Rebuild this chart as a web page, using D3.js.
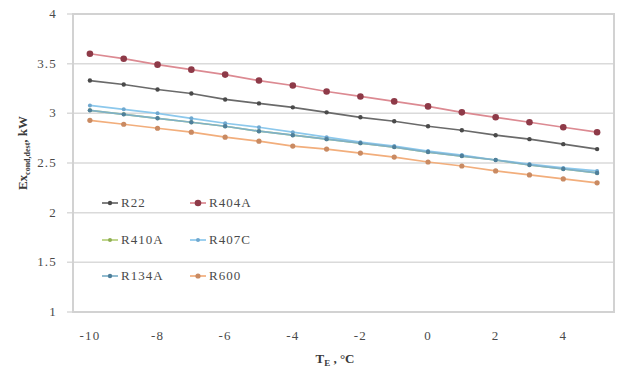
<!DOCTYPE html>
<html>
<head>
<meta charset="utf-8">
<script src="https://cdn.jsdelivr.net/npm/d3@7"></script>
<style>
  body { margin: 0; background: #fff; }
  svg text { font-family: "Liberation Serif", "Times New Roman", serif; }
</style>
</head>
<body>
<svg width="620" height="368"></svg>
<script>
let temps = [-10, -9, -8, -7, -6, -5, -4, -3, -2, -1, 0, 1, 2, 3, 4, 5]
let xTickLabels = [-10, -8, -6, -4, -2, 0, 2, 4]
let yTicks = [1, 1.5, 2, 2.5, 3, 3.5, 4]

let r22 = [3.33, 3.29, 3.24, 3.20, 3.14, 3.10, 3.06, 3.01, 2.96, 2.92, 2.87, 2.83, 2.78, 2.74, 2.69, 2.64]
let r404a = [3.60, 3.55, 3.49, 3.44, 3.39, 3.33, 3.28, 3.22, 3.17, 3.12, 3.07, 3.01, 2.96, 2.91, 2.86, 2.81]
let r410a = [3.03, 2.99, 2.95, 2.91, 2.87, 2.82, 2.78, 2.74, 2.70, 2.66, 2.61, 2.57, 2.53, 2.48, 2.44, 2.40]
let r407c = [3.08, 3.04, 3.00, 2.95, 2.90, 2.86, 2.81, 2.76, 2.71, 2.67, 2.62, 2.58, 2.53, 2.49, 2.45, 2.42]
let r134a = [3.03, 2.99, 2.95, 2.91, 2.87, 2.82, 2.78, 2.74, 2.70, 2.66, 2.61, 2.57, 2.53, 2.48, 2.44, 2.40]
let r600 = [2.93, 2.89, 2.85, 2.81, 2.76, 2.72, 2.67, 2.64, 2.60, 2.56, 2.51, 2.47, 2.42, 2.38, 2.34, 2.30]

let seriesNames = ['R22', 'R404A', 'R410A', 'R407C', 'R134A', 'R600']
let seriesValues = [r22, r404a, r410a, r407c, r134a, r600]
let lineColors = ['#6a6a6a', '#dc8a92', '#b5cf7a', '#8cc8ec', '#7fb0c8', '#f2ae7c']
let markerColors = ['#4a4a4a', '#8e3a48', '#8fae52', '#6fa8cf', '#4f7f9a', '#c98a62']
let markerSizes = [2.2, 3.3, 2, 2, 2.2, 2.6]

let margin = { top: 14, bottom: 56, left: 73, right: 6 }
let width = 620
let height = 368

let svg = d3.select('svg')

let xScale = d3.scalePoint()
  .domain(temps)
  .range([margin.left, width - margin.right])
  .padding(0.5)

let yScale = d3.scaleLinear()
  .domain([1, 4])
  .range([height - margin.bottom, margin.top])

// gridlines + y tick marks
svg.append('g')
  .selectAll('line')
  .data(yTicks)
  .join('line')
  .attr('x1', margin.left - 6)
  .attr('x2', width - margin.right)
  .attr('y1', d => yScale(d))
  .attr('y2', d => yScale(d))
  .attr('stroke', '#dadada')
  .attr('stroke-width', 1.5)

// plot border
svg.append('rect')
  .attr('x', margin.left)
  .attr('y', margin.top)
  .attr('width', width - margin.right - margin.left)
  .attr('height', height - margin.bottom - margin.top)
  .attr('fill', 'none')
  .attr('stroke', '#d2d2d2')
  .attr('stroke-width', 2)

// y tick labels
svg.append('g')
  .selectAll('text')
  .data(yTicks)
  .join('text')
  .attr('x', 57)
  .attr('y', d => yScale(d) + 4)
  .attr('text-anchor', 'end')
  .attr('font-size', 13)
  .attr('letter-spacing', 1.2)
  .attr('fill', '#4a4a4a')
  .text(d => d)

// x tick labels
svg.append('g')
  .selectAll('text')
  .data(xTickLabels)
  .join('text')
  .attr('x', d => xScale(d))
  .attr('y', 340)
  .attr('text-anchor', 'middle')
  .attr('font-size', 13)
  .attr('letter-spacing', 1.2)
  .attr('fill', '#4a4a4a')
  .text(d => d)

// axis titles
let xTitle = svg.append('text')
  .attr('x', 335)
  .attr('y', 363)
  .attr('text-anchor', 'middle')
  .attr('font-size', 13)
  .attr('font-weight', 'bold')
  .attr('fill', '#3a3a3a')
xTitle.append('tspan').text('T')
xTitle.append('tspan').attr('font-size', 9).attr('dy', 3).text('E')
xTitle.append('tspan').attr('dy', -3).text(' , °C')

let yTitle = svg.append('text')
  .attr('transform', 'translate(27,153) rotate(-90)')
  .attr('text-anchor', 'middle')
  .attr('font-size', 13)
  .attr('font-weight', 'bold')
  .attr('fill', '#3a3a3a')
yTitle.append('tspan').text('Ex')
yTitle.append('tspan').attr('font-size', 8).attr('dy', 3).text('cond,dest')
yTitle.append('tspan').attr('dy', -3).text(', kW')

// series lines and markers
let line = d3.line()
  .x((d, i) => xScale(temps[i]))
  .y(d => yScale(d))

seriesValues.forEach((vals, k) => {
  svg.append('path')
    .attr('d', line(vals))
    .attr('fill', 'none')
    .attr('stroke', lineColors[k])
    .attr('stroke-width', 1.7)
  svg.append('g')
    .selectAll('circle')
    .data(vals)
    .join('circle')
    .attr('cx', (d, i) => xScale(temps[i]))
    .attr('cy', d => yScale(d))
    .attr('r', markerSizes[k])
    .attr('fill', markerColors[k])
})

// legend
let legendX = [102, 190]
let legendY = [203, 240, 276]
let legend = svg.append('g')
seriesNames.forEach((name, k) => {
  let lx = legendX[k % 2]
  let ly = legendY[Math.floor(k / 2)]
  legend.append('line')
    .attr('x1', lx).attr('x2', lx + 16)
    .attr('y1', ly).attr('y2', ly)
    .attr('stroke', lineColors[k])
    .attr('stroke-width', 1.7)
  legend.append('circle')
    .attr('cx', lx + 8).attr('cy', ly)
    .attr('r', markerSizes[k])
    .attr('fill', markerColors[k])
  legend.append('text')
    .attr('x', lx + 19)
    .attr('y', ly + 4)
    .attr('font-size', 13)
    .attr('letter-spacing', 1)
    .attr('fill', '#4a4a4a')
    .text(name)
})
</script>
</body>
</html>
